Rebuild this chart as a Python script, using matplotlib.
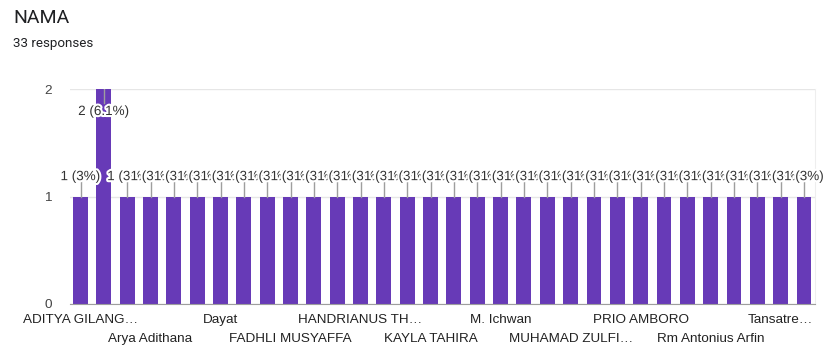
import matplotlib.pyplot as plt
import matplotlib.patheffects as pe

plt.rcParams['font.family'] = ['Liberation Sans', 'DejaVu Sans']

# responses per name (33 total), in the form's alphabetical order
counts = [1, 2, 1, 1, 1, 1, 1, 1, 1, 1, 1, 1, 1, 1, 1, 1,
          1, 1, 1, 1, 1, 1, 1, 1, 1, 1, 1, 1, 1, 1, 1, 1]
total = 33
# only every third name fits under the axis
shown_names = ['ADITYA GILANG…', 'Arya Adithana', 'Dayat', 'FADHLI MUSYAFFA',
               'HANDRIANUS TH…', 'KAYLA TAHIRA', 'M. Ichwan', 'MUHAMAD ZULFI…',
               'PRIO AMBORO', 'Rm Antonius Arfin', 'Tansatre…']

purple = '#673ab7'
text_col = '#444444'

fig = plt.figure(figsize=(8.32, 3.51), dpi=100)
fig.text(13 / 832, 1 - 18 / 351, 'NAMA', fontsize=14, color='#202124', va='center',
         family=['Roboto', 'DejaVu Sans'])
fig.text(13 / 832, 1 - 43 / 351, '33 responses', fontsize=9.6, color='#202124', va='center',
         family=['Roboto', 'DejaVu Sans'])

ax = fig.add_axes([70 / 832, 47 / 351, 745 / 832, 215 / 351])
x = list(range(len(counts)))
ax.bar(x, counts, width=0.64, color=purple, zorder=2)

# value labels with a white halo; later ones overlap earlier ones
for i, c in enumerate(counts):
    pct = c / total * 100
    pct_txt = f'{pct:.1f}'.rstrip('0').rstrip('.')
    label = f'{c} ({pct_txt}%)'
    if c == max(counts):
        ax.plot([i, i], [c, c - 0.13], color='#9e9e9e', lw=1, zorder=3 + i)
        y = c - 0.214
    else:
        ax.plot([i, i], [c, c + 0.145], color='#9e9e9e', lw=1, zorder=3 + i)
        y = c + 0.18
    ax.text(i, y, label, ha='center', va='center', fontsize=9.7, color='#333333',
            zorder=3 + i, path_effects=[pe.withStroke(linewidth=3, foreground='white')])

ax.set_xlim(-0.45, len(counts) - 0.53)
ax.set_ylim(0, 2)
ax.set_yticks([0, 1, 2])
ax.grid(axis='y', color='#e6e6e6', lw=1, zorder=0)
ax.tick_params(axis='y', length=0, pad=13, labelsize=9.7, labelcolor=text_col)

pos = list(range(0, len(counts), 3))
ax.set_xticks(pos)
ax.set_xticklabels(shown_names)
ax.tick_params(axis='x', length=0, labelsize=9.7, labelcolor='#222222')
for k, t in enumerate(ax.get_xticklabels()):
    t.set_y(-0.025 if k % 2 == 0 else -0.11)

for s in ['top', 'left']:
    ax.spines[s].set_visible(False)
ax.spines['right'].set_color('#eeeeee')
ax.spines['bottom'].set_color('#9e9e9e')
ax.spines['bottom'].set_zorder(2.5)

fig.savefig('out.png', dpi=100, facecolor='white')
